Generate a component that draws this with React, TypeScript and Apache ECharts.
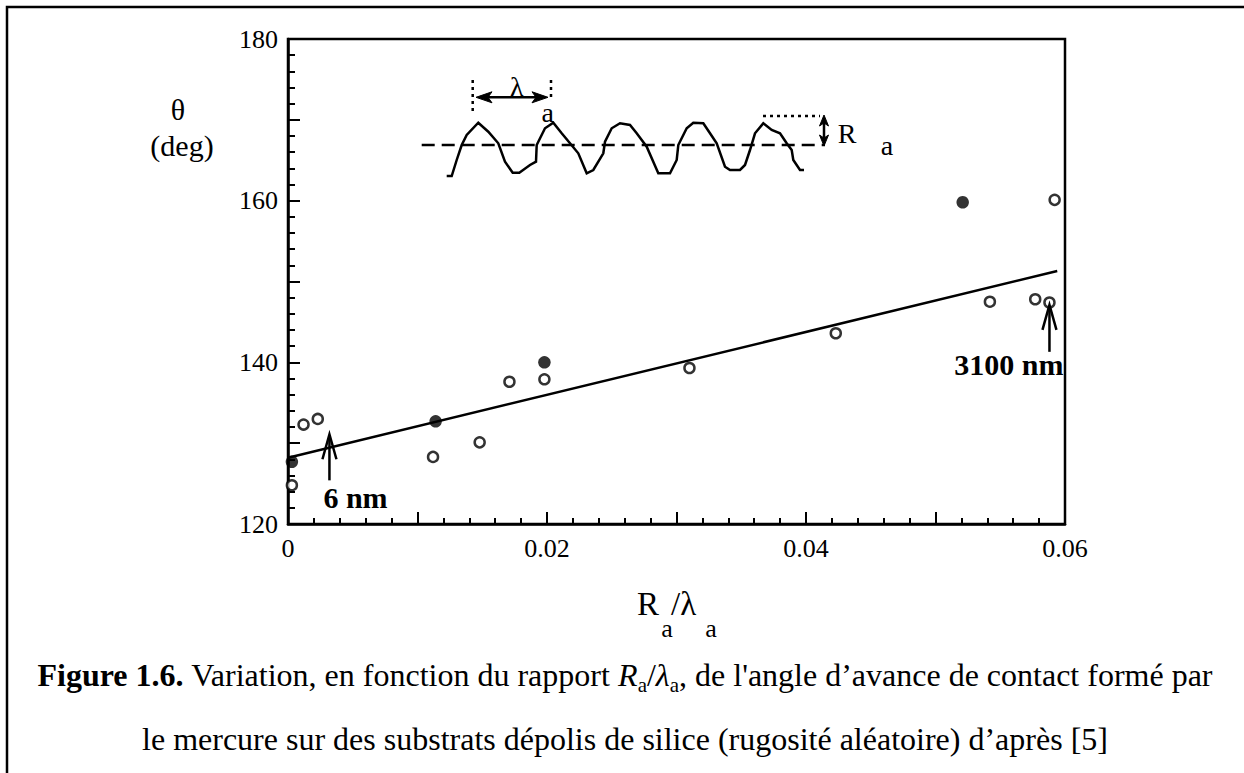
import React, { useEffect, useRef } from "react";
import * as echarts from "echarts";

// ---- data ----
const openX = [0.0003, 0.0012, 0.0023, 0.0112, 0.0148, 0.0171, 0.0198, 0.031, 0.0423, 0.0542, 0.0577, 0.0588, 0.0592];
const openY = [124.8, 132.3, 133.0, 128.3, 130.1, 137.6, 137.9, 139.3, 143.6, 147.5, 147.8, 147.4, 160.1];
const filledX = [0.0003, 0.0114, 0.0198, 0.0521];
const filledY = [127.7, 132.7, 140.0, 159.8];
const fitX = [0, 0.0594];
const fitY = [128.2, 151.3];
const xTickLabels = ["0", "0.02", "0.04", "0.06"];
const yTickLabels = ["120", "140", "160", "180"];
const noteTexts = ["6 nm", "3100 nm"];
const noteX = [0.0032, 0.0588];
const noteYFrom = [125.4, 141.3];
const noteYTo = [131.1, 147.1];

// ---- schematic roughness profile (illustration, pixel space) ----
const WAVE: number[][] = [
  [446.7, 176], [451.7, 176], [456.7, 160], [461.7, 145], [466.7, 135], [478.3, 122.7], [488.3, 131.7],
  [498.3, 143.3], [505, 161.7], [512.7, 172.7], [519.3, 172.7], [530, 165], [536, 161.7], [536.7, 145],
  [545, 128.3], [553.3, 122.7], [561.7, 133.3], [570, 143.3], [578.3, 153.3], [586.7, 173.3], [593.3, 170],
  [603.3, 153.3], [605, 141.7], [611.7, 128.3], [620, 123.3], [630, 125], [636.7, 133.3], [646.7, 146.7],
  [658.3, 173.3], [670, 173.3], [676.7, 160], [678.3, 145], [686.7, 128.3], [693.3, 122.7], [703.3, 123.3],
  [710, 133.3], [716.7, 143.3], [725, 166.7], [730, 170], [740, 170], [745, 165], [750, 150], [755, 133.3],
  [763.3, 123.3], [771.7, 130], [780, 133.3], [786.7, 143.3], [791.7, 150], [793.3, 160], [800, 170], [804, 170],
];

const FONT = "'Liberation Serif','Times New Roman',Times,serif";

function txt(x: number, y: number, text: string, size: number, extra: any = {}) {
  const align = extra.align || "center";
  return {
    type: "text",
    x,
    y,
    z: 100,
    style: {
      text,
      fontFamily: FONT,
      fontSize: size,
      fill: "#000",
      align,
      textAlign: align,
      verticalAlign: "middle",
      textVerticalAlign: "middle",
      ...extra,
    },
  };
}

function ln(x1: number, y1: number, x2: number, y2: number, w = 2.5, dash?: number[]) {
  return {
    type: "line",
    z: 100,
    shape: { x1, y1, x2, y2 },
    style: { stroke: "#000", lineWidth: w, lineDash: dash || null },
  };
}

function poly(points: number[][], filled = true) {
  return {
    type: filled ? "polygon" : "polyline",
    z: 100,
    shape: { points },
    style: filled ? { fill: "#000", stroke: "#000", lineWidth: 1 } : { fill: "none", stroke: "#000", lineWidth: 2.5 },
  };
}

export default function App() {
  const ref = useRef<HTMLDivElement>(null);

  useEffect(() => {
    const chart = echarts.init(ref.current!, null, { renderer: "svg" });

    const option: any = {
      animation: false,
      backgroundColor: "#fff",
      grid: {
        left: 288,
        top: 39,
        width: 777,
        height: 485,
        show: true,
        borderColor: "#000",
        borderWidth: 2.5,
        backgroundColor: "transparent",
      },
      xAxis: {
        type: "value",
        min: 0,
        max: 0.06,
        interval: 0.01,
        axisLine: { show: true, onZero: false, lineStyle: { color: "#000", width: 2.5 } },
        axisTick: { show: true, inside: true, length: 12, lineStyle: { color: "#000", width: 2 } },
        minorTick: { show: true, splitNumber: 5, length: 6, lineStyle: { color: "#000", width: 2 } },
        splitLine: { show: false },
        minorSplitLine: { show: false },
        axisLabel: {
          color: "#000",
          fontFamily: FONT,
          fontSize: 26,
          margin: 11,
          formatter: (v: number) => {
            const k = Math.round(v * 100);
            return k % 2 === 0 ? xTickLabels[k / 2] ?? "" : "";
          },
        },
      },
      yAxis: {
        type: "value",
        min: 120,
        max: 180,
        interval: 10,
        axisLine: { show: true, onZero: false, lineStyle: { color: "#000", width: 2.5 } },
        axisTick: { show: true, inside: true, length: 12, lineStyle: { color: "#000", width: 2 } },
        minorTick: { show: true, splitNumber: 5, length: 7, lineStyle: { color: "#000", width: 2 } },
        splitLine: { show: false },
        minorSplitLine: { show: false },
        axisLabel: {
          color: "#000",
          fontFamily: FONT,
          fontSize: 26,
          margin: 10,
          formatter: (v: number) => {
            const k = Math.round((v - 120) / 10);
            return k % 2 === 0 ? yTickLabels[k / 2] ?? "" : "";
          },
        },
      },
      series: [
        {
          type: "line",
          data: fitX.map((x, i) => [x, fitY[i]]),
          symbol: "none",
          lineStyle: { color: "#000", width: 2.5 },
          z: 2,
          silent: true,
        },
        {
          type: "scatter",
          data: openX.map((x, i) => [x, openY[i]]),
          symbol: "circle",
          symbolSize: 10,
          itemStyle: { color: "#fff", borderColor: "#000", borderWidth: 2.5 },
          z: 3,
        },
        {
          type: "scatter",
          data: filledX.map((x, i) => [x, filledY[i]]),
          symbol: "circle",
          symbolSize: 12.5,
          itemStyle: { color: "#000" },
          z: 4,
        },
      ],
    };

    chart.setOption(option);

    const px = (x: number, y: number) => chart.convertToPixel({ gridIndex: 0 }, [x, y]) as number[];

    const g: any[] = [];
    // outer frame
    g.push({
      type: "rect",
      z: 100,
      shape: { x: 7, y: 7, width: 1400, height: 1000 },
      style: { fill: "none", stroke: "#000", lineWidth: 2.5 },
    });

    // inset: mean line + profile
    g.push(ln(421.7, 145, 825, 145, 2.5, [13, 7]));
    g.push({
      type: "polyline",
      z: 100,
      shape: { points: WAVE },
      style: { fill: "none", stroke: "#000", lineWidth: 2.5 },
    });
    // lambda marker
    g.push(ln(472.7, 80, 472.7, 111, 2.5, [3, 4]));
    g.push(ln(551, 80, 551, 100, 2.5, [3, 4]));
    g.push(ln(484, 97.3, 540, 97.3, 2.5));
    g.push(poly([[476, 97.3], [492, 91.8], [488, 97.3], [492, 102.8]]));
    g.push(poly([[548, 97.3], [532, 91.8], [536, 97.3], [532, 102.8]]));
    g.push(txt(516.7, 86, "λ", 28));
    g.push(txt(547.7, 112, "a", 28));
    // R marker
    g.push(ln(763, 116, 820, 116, 2.5, [3, 4]));
    g.push(ln(824, 121, 824, 140, 2.5));
    g.push(poly([[824, 115], [819.5, 126], [824, 123], [828.5, 126]]));
    g.push(poly([[824, 146], [819.5, 135], [824, 138], [828.5, 135]]));
    g.push(txt(847, 133, "R", 28));
    g.push(txt(887, 145, "a", 28));

    // y axis title
    g.push(txt(178, 109, "θ", 30));
    g.push(txt(182, 145, "(deg)", 30));

    // x axis title
    g.push(txt(637, 604, "R", 33, { align: "left" }));
    g.push(txt(671, 604, "/λ", 33, { align: "left" }));
    g.push(txt(667, 628, "a", 26));
    g.push(txt(711, 628, "a", 26));

    // annotations with arrows
    noteTexts.forEach((t, i) => {
      const [bx, by] = px(noteX[i], noteYFrom[i]);
      const [, ty] = px(noteX[i], noteYTo[i]);
      g.push(ln(bx, by, bx, ty + 3, 2.5));
      g.push(poly([[bx - 7, ty + 25], [bx, ty], [bx + 7, ty + 25]], false));
      if (i === 0) {
        g.push(txt(bx - 6, by + 17, t, 30, { align: "left", fontWeight: "bold" }));
      } else {
        g.push(txt(bx + 14, by + 13, t, 30, { align: "right", fontWeight: "bold" }));
      }
    });

    // caption
    g.push({
      type: "text",
      x: 625,
      y: 675,
      z: 100,
      style: {
        text: "{b|Figure 1.6.} Variation, en fonction du rapport {i|R}{s|a}/{i|λ}{s|a}, de l'angle d’avance de contact formé par",
        fontFamily: FONT,
        fontSize: 32,
        fill: "#000",
        align: "center",
        textAlign: "center",
        verticalAlign: "middle",
        textVerticalAlign: "middle",
        rich: {
          b: { fontFamily: FONT, fontSize: 32, fontWeight: "bold", lineHeight: 40, fill: "#000" },
          i: { fontFamily: FONT, fontSize: 32, fontStyle: "italic", lineHeight: 40, fill: "#000" },
          s: { fontFamily: FONT, fontSize: 21, lineHeight: 21, verticalAlign: "bottom", fill: "#000" },
        },
        lineHeight: 40,
      },
    });
    g.push(txt(625, 739, "le mercure sur des substrats dépolis de silice (rugosité aléatoire) d’après [5]", 32));

    chart.setOption({ graphic: { elements: g } });

    return () => chart.dispose();
  }, []);

  return (
    <div
      ref={ref}
      style={{ position: "fixed", left: 0, top: 0, width: 1244, height: 773, background: "#fff" }}
    />
  );
}
